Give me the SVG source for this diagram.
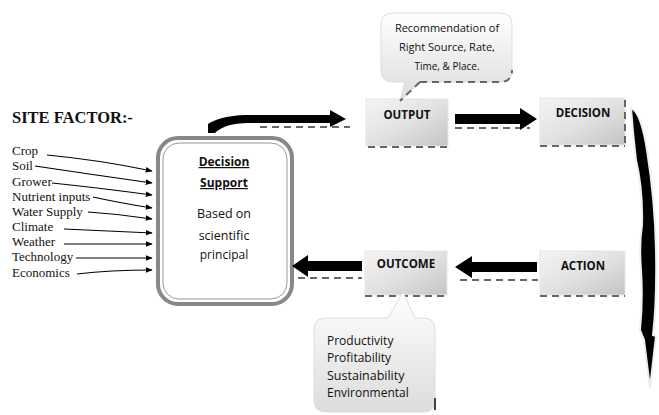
<svg xmlns="http://www.w3.org/2000/svg" width="659" height="415" viewBox="0 0 659 415">
<defs>
<linearGradient id="boxg" x1="0" y1="0" x2="1" y2="1">
<stop offset="0" stop-color="#f4f4f4"/><stop offset="0.5" stop-color="#e2e2e2"/><stop offset="1" stop-color="#c4c4c4"/>
</linearGradient>
<linearGradient id="callg" x1="0" y1="0" x2="0" y2="1">
<stop offset="0" stop-color="#ffffff"/><stop offset="1" stop-color="#dcdcdc"/>
</linearGradient>
<marker id="ah" viewBox="0 0 10 10" refX="9" refY="5" markerWidth="7" markerHeight="7" orient="auto" markerUnits="userSpaceOnUse">
<path d="M0,1 L10,5 L0,9 z" fill="#000"/>
</marker>
<style>
.sf{font-family:"Liberation Serif",serif;font-size:13px;fill:#111}
.ttl{font-family:"Liberation Serif",serif;font-size:16.5px;font-weight:bold;fill:#111}
.sans{font-family:"Open Sans","Liberation Sans",sans-serif;fill:#111}
.bl{font-family:"Open Sans","Liberation Sans",sans-serif;font-size:11.5px;font-weight:bold;fill:#111;text-anchor:middle}
.thin{stroke:#000;stroke-width:1.2;fill:none;marker-end:url(#ah)}
.box{fill:url(#boxg);stroke:#e6e6e6;stroke-width:1}
.dash{stroke:#666;stroke-width:2;stroke-dasharray:7,5;fill:none}
.big{fill:#000}
</style>
</defs>

<g id="site-factor">
<text class="ttl" x="12" y="123">SITE FACTOR:-</text>
<text class="sf" x="12" y="155">Crop</text>
<text class="sf" x="12" y="170">Soil</text>
<text class="sf" x="12" y="186">Grower</text>
<text class="sf" x="12" y="201">Nutrient inputs</text>
<text class="sf" x="12" y="216">Water Supply</text>
<text class="sf" x="12" y="231">Climate</text>
<text class="sf" x="12" y="246">Weather</text>
<text class="sf" x="12" y="261">Technology</text>
<text class="sf" x="12" y="277">Economics</text>
</g>

<g id="decision-support">
<rect x="158" y="138" width="134" height="166" rx="20" fill="#fff" stroke="#888" stroke-width="4"/>
<rect x="163" y="143" width="124" height="156" rx="16" fill="#fff" stroke="#999" stroke-width="1"/>
<text class="sans" x="224" y="166" font-size="12" font-weight="bold" text-anchor="middle" text-decoration="underline">Decision</text>
<text class="sans" x="224" y="187" font-size="12" font-weight="bold" text-anchor="middle" text-decoration="underline">Support</text>
<text class="sans" x="224" y="218" font-size="12.5" text-anchor="middle">Based on</text>
<text class="sans" x="224" y="240" font-size="12.5" text-anchor="middle">scientific</text>
<text class="sans" x="224" y="259" font-size="12" text-anchor="middle">principal</text>
</g>

<g id="output">
<rect class="box" x="366" y="99" width="82" height="47"/>
<path class="dash" d="M368,147 H448"/>
<text class="bl" x="407" y="119">OUTPUT</text>
</g>

<g id="decision">
<rect class="box" x="540" y="98" width="85" height="47"/>
<path class="dash" d="M540,146 H625 M625,100 V145"/>
<text class="bl" x="583" y="117">DECISION</text>
</g>

<g id="action">
<rect class="box" x="540" y="251" width="85" height="44"/>
<path class="dash" d="M540,296 H625"/>
<text class="bl" x="583" y="270">ACTION</text>
</g>

<g id="outcome">
<rect class="box" x="365" y="251" width="82" height="44"/>
<path class="dash" d="M365,296 H447"/>
<text class="bl" x="406" y="268">OUTCOME</text>
</g>

<g id="callout-output">
<path d="M393,13 H500 Q512,13 512,25 V70 Q512,82 500,82 H420 L400,101 L405,82 H393 Q381,82 381,70 V25 Q381,13 393,13 z" fill="url(#callg)" stroke="#ddd" stroke-width="1"/>
<path d="M420,82 H500 Q512,82 512,70" class="dash" stroke-width="1.5" stroke-dasharray="6,4"/>
<path d="M420,82 L400,101" class="dash" stroke-width="1.5" stroke-dasharray="6,4"/>
<text class="sans" x="447" y="32" font-size="11" text-anchor="middle">Recommendation of</text>
<text class="sans" x="447" y="51" font-size="11" text-anchor="middle">Right Source, Rate,</text>
<text class="sans" x="447" y="70" font-size="10" text-anchor="middle">Time, &amp; Place.</text>
</g>

<g id="callout-outcome">
<path d="M326,318 H388 L403,292 L415,318 H423 Q435,318 435,330 V400 Q435,412 423,412 H326 Q314,412 314,400 V330 Q314,318 326,318 z" fill="url(#callg)" stroke="#ddd" stroke-width="1"/>
<path d="M435,398 V410" stroke="#444" stroke-width="2" fill="none"/>
<text class="sans" x="327" y="345" font-size="12">Productivity</text>
<text class="sans" x="327" y="362" font-size="12">Profitability</text>
<text class="sans" x="327" y="380" font-size="12.5">Sustainability</text>
<text class="sans" x="327" y="397" font-size="12">Environmental</text>
</g>

<g id="connectors">
<path class="thin" d="M47,155 Q100,160 152,171"/>
<path class="thin" d="M35,166 Q95,175 152,183"/>
<path class="thin" d="M52,183 Q100,188 152,195"/>
<path class="thin" d="M93,197 Q120,203 152,208"/>
<path class="thin" d="M88,212 Q120,214 152,219"/>
<path class="thin" d="M64,229 Q110,231 152,233"/>
<path class="thin" d="M64,244 H152"/>
<path class="thin" d="M76,258 H152"/>
<path class="thin" d="M77,274 Q110,270 152,270"/>

<!-- Decision support to OUTPUT -->
<path class="dash" d="M260,127 H350" stroke-width="1.5"/>
<path class="big" d="M208,133 L208,124 Q220,116 245,115 L330,115 L330,110 L346,119 L330,127 L330,123 L248,123 Q225,123 215,133 z"/>
<!-- OUTPUT to DECISION -->
<path class="dash" d="M455,128 H530" stroke-width="1.5"/>
<path class="big" d="M455,114 H520 V108 L537,119 L520,130 V124 H455 z"/>
<!-- DECISION to ACTION big curved crescent -->
<path class="big" stroke="#eee" stroke-width="2" d="M631,108 Q641,112 647,150 Q655,200 656,250 Q657,300 653,335 L656,336 L650,388 L644,340 L640,330 Q643,300 641,270 Q639,245 642,225 Q643,190 636,160 Q633,135 631,108 z"/>
<!-- ACTION to OUTCOME -->
<path class="dash" d="M460,280 H538" stroke-width="1.5"/>
<path class="big" d="M537,262 H472 V256 L455,267 L472,278 V272 H537 z"/>
<!-- OUTCOME to Decision support -->
<path class="dash" d="M298,278 H362" stroke-width="1.5"/>
<path class="big" d="M362,261 H308 V255 L292,266 L308,277 V271 H362 z"/>
</g>
</svg>
